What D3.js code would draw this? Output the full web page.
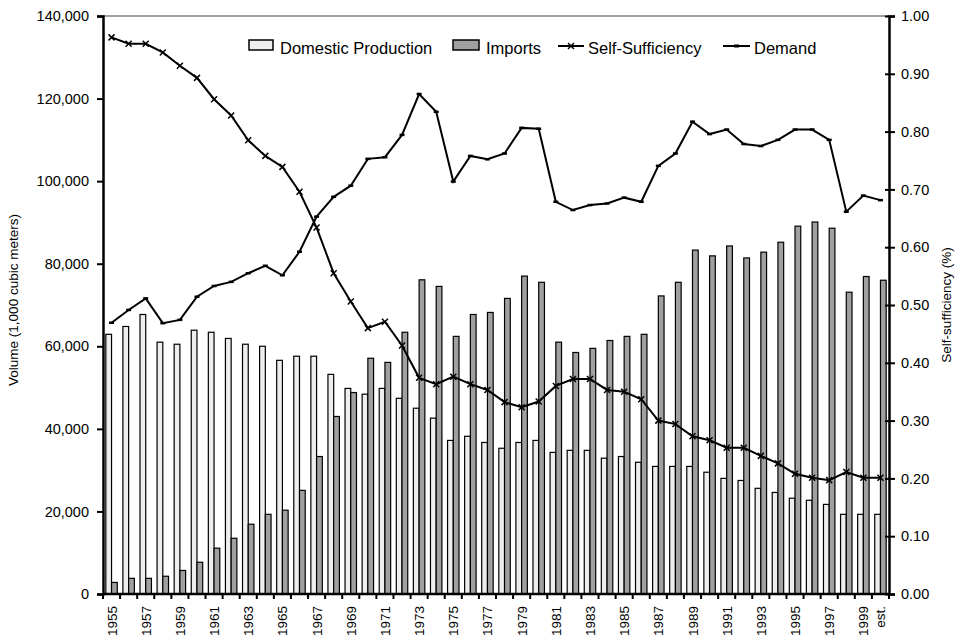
<!DOCTYPE html>
<html>
<head>
<meta charset="utf-8">
<script src="https://cdn.jsdelivr.net/npm/d3@7"></script>
<style>
  body { margin: 0; background: #fff; }
  text { font-family: "Liberation Sans", Arial, sans-serif; }
</style>
</head>
<body>
<div class="graphe"></div>
<script>
"use strict";

// donnees
var annees = ["1955","1956","1957","1958","1959","1960","1961","1962","1963","1964",
  "1965","1966","1967","1968","1969","1970","1971","1972","1973","1974",
  "1975","1976","1977","1978","1979","1980","1981","1982","1983","1984",
  "1985","1986","1987","1988","1989","1990","1991","1992","1993","1994",
  "1995","1996","1997","1998","1999","est."];

var production = [62900,64800,67700,61000,60500,63900,63400,61900,60500,60000,
  56600,57600,57600,53200,49800,48400,49800,47400,45000,42600,
  37200,38200,36700,35300,36700,37200,34300,34800,34800,32900,
  33300,31900,30900,30900,30900,29500,28000,27500,25600,24600,
  23200,22700,21700,19300,19300,19300];

var imports = [2800,3800,3800,4300,5700,7700,11100,13500,16900,19300,
  20300,25100,33300,43000,48800,57100,56100,63400,76100,74500,
  62400,67700,68200,71600,77000,75500,61000,58500,59500,61400,
  62400,62900,72200,75500,83300,81900,84300,81400,82800,85200,
  89100,90100,88600,73100,76900,76000];

var demande = [65700,68800,71600,65600,66400,72000,74600,75600,77700,79500,
  77200,82900,91400,96200,98900,105400,105800,111200,121100,116800,
  99900,106100,105300,106700,112900,112700,95000,93000,94200,94600,
  96000,95000,103700,106700,114400,111400,112500,109000,108500,110000,
  112500,112500,110000,92600,96500,95400];

var autosuffisance = [0.963,0.952,0.952,0.937,0.914,0.893,0.856,0.828,0.785,0.758,
  0.739,0.696,0.634,0.555,0.506,0.460,0.471,0.430,0.374,0.363,
  0.376,0.363,0.353,0.332,0.323,0.333,0.360,0.372,0.372,0.353,
  0.350,0.337,0.300,0.294,0.273,0.266,0.253,0.253,0.239,0.226,
  0.208,0.201,0.197,0.211,0.201,0.201];

var ticksVolume = [0,20000,40000,60000,80000,100000,120000,140000];
var ticksRatio = [0,0.1,0.2,0.3,0.4,0.5,0.6,0.7,0.8,0.9,1.0];
var series = ["Domestic Production","Imports"];

var larg = 959, haut = 641;
var marge = {haut: 16, droite: 70, bas: 47, gauche: 103};
var w = larg - marge.gauche - marge.droite;
var h = haut - marge.haut - marge.bas;

var svg = d3.select(".graphe").append("svg")
  .attr("width", larg)
  .attr("height", haut);

var g = svg.append("g")
  .attr("transform", "translate(" + marge.gauche + "," + marge.haut + ")");

// echelles
var x = d3.scaleBand().domain(annees).range([0, w])
  .paddingInner(0.33).paddingOuter(0.165);
var x1 = d3.scaleBand().domain(series).range([0, x.bandwidth()]);
var yG = d3.scaleLinear().domain([0, 140000]).range([h, 0]);
var yD = d3.scaleLinear().domain([0, 1]).range([h, 0]);
var pas = x.step();
function centre(d, i){ return x(annees[i]) + x.bandwidth()/2; }

var table = annees.map(function(a, i){
  return {annee: a, valeurs: [production[i], imports[i]]};
});

// bordure du haut
g.append("line")
  .attr("x1", 0).attr("x2", w).attr("y1", 0).attr("y2", 0)
  .attr("stroke", "#808080").attr("stroke-width", 1.5);

// barres
var groupes = g.selectAll("g.annee")
  .data(table)
  .enter().append("g")
  .attr("class", "annee")
  .attr("transform", function(d){ return "translate(" + x(d.annee) + ",0)"; });

groupes.selectAll("rect")
  .data(function(d){ return d.valeurs.map(function(v, k){ return {serie: series[k], v: v}; }); })
  .enter().append("rect")
  .attr("x", function(d){ return x1(d.serie); })
  .attr("y", function(d){ return yG(d.v); })
  .attr("width", x1.bandwidth())
  .attr("height", function(d){ return h - yG(d.v); })
  .attr("fill", function(d){ return d.serie == "Imports" ? "#a0a0a0" : "#eeeeee"; })
  .attr("stroke", "#000")
  .attr("stroke-width", 1.2);

// courbe demande
var ligneDemande = d3.line()
  .x(function(d, i){ return centre(d, i); })
  .y(function(d){ return yG(d); });

g.append("path")
  .datum(demande)
  .attr("d", ligneDemande)
  .attr("fill", "none")
  .attr("stroke", "#000")
  .attr("stroke-width", 2);

g.selectAll("line.mdem")
  .data(demande)
  .enter().append("line")
  .attr("class", "mdem")
  .attr("x1", function(d, i){ return centre(d, i) - 2.5; })
  .attr("x2", function(d, i){ return centre(d, i) + 2.5; })
  .attr("y1", function(d){ return yG(d); })
  .attr("y2", function(d){ return yG(d); })
  .attr("stroke", "#000").attr("stroke-width", 2.5);

// courbe autosuffisance
var ligneRatio = d3.line()
  .x(function(d, i){ return centre(d, i); })
  .y(function(d){ return yD(d); });

g.append("path")
  .datum(autosuffisance)
  .attr("d", ligneRatio)
  .attr("fill", "none")
  .attr("stroke", "#000")
  .attr("stroke-width", 2);

function croix(sel, cx, cy){
  sel.append("path")
    .attr("d", "M" + (cx-3) + "," + (cy-3) + "L" + (cx+3) + "," + (cy+3) +
      "M" + (cx-3) + "," + (cy+3) + "L" + (cx+3) + "," + (cy-3))
    .attr("stroke", "#000").attr("stroke-width", 1.5);
}
autosuffisance.forEach(function(d, i){ croix(g, centre(d, i), yD(d)); });

// axes
var axeG = g.append("g")
  .call(d3.axisLeft(yG).tickValues(ticksVolume).tickSize(6).tickPadding(8)
    .tickFormat(d3.format(",")));
var axeD = g.append("g")
  .attr("transform", "translate(" + w + ",0)")
  .call(d3.axisRight(yD).tickValues(ticksRatio).tickSize(6).tickPadding(6)
    .tickFormat(d3.format(".2f")));
[axeG, axeD].forEach(function(a){
  a.select(".domain").attr("stroke-width", 2.5);
  a.selectAll(".tick line").attr("stroke-width", 2);
  a.selectAll("text").attr("font-size", "14.5px").attr("fill", "#000");
});
axeD.selectAll(".tick line").attr("x1", -4);

// axe x
var axeX = g.append("g").attr("transform", "translate(0," + h + ")");
axeX.append("line")
  .attr("x1", 0).attr("x2", w).attr("y1", 0).attr("y2", 0)
  .attr("stroke", "#000").attr("stroke-width", 2.5);
axeX.selectAll("line.graduation")
  .data(d3.range(annees.length + 1))
  .enter().append("line")
  .attr("class", "graduation")
  .attr("x1", function(i){ return i * pas; })
  .attr("x2", function(i){ return i * pas; })
  .attr("y1", 0).attr("y2", 5)
  .attr("stroke", "#000").attr("stroke-width", 2);
axeX.selectAll("text")
  .data(annees.filter(function(a, i){ return i % 2 == 0 || i == annees.length - 1; }))
  .enter().append("text")
  .attr("transform", function(a){
    return "translate(" + (x(a) + x.bandwidth()/2 + 5) + ",12) rotate(-90)";
  })
  .attr("text-anchor", "end")
  .attr("font-size", "13.5px")
  .text(function(a){ return a; });

// titres des axes
svg.append("text")
  .attr("transform", "translate(18,300) rotate(-90)")
  .attr("text-anchor", "middle")
  .attr("font-size", "13.5px")
  .text("Volume (1,000 cubic meters)");
svg.append("text")
  .attr("transform", "translate(951,305) rotate(-90)")
  .attr("text-anchor", "middle")
  .attr("font-size", "13.5px")
  .text("Self-sufficiency (%)");

// legende
var legende = svg.append("g").attr("font-size", "16.5px");
legende.append("rect").attr("x", 249).attr("y", 40).attr("width", 24).attr("height", 10)
  .attr("fill", "#eeeeee").attr("stroke", "#000").attr("stroke-width", 1.5);
legende.append("text").attr("x", 280).attr("y", 54).text("Domestic Production");
legende.append("rect").attr("x", 453).attr("y", 40).attr("width", 26).attr("height", 10)
  .attr("fill", "#a0a0a0").attr("stroke", "#000").attr("stroke-width", 1.5);
legende.append("text").attr("x", 486).attr("y", 54).text("Imports");
legende.append("line").attr("x1", 558).attr("x2", 584).attr("y1", 46).attr("y2", 46)
  .attr("stroke", "#000").attr("stroke-width", 2);
croix(legende, 571, 46);
legende.append("text").attr("x", 588).attr("y", 54).text("Self-Sufficiency");
legende.append("line").attr("x1", 723).attr("x2", 750).attr("y1", 46).attr("y2", 46)
  .attr("stroke", "#000").attr("stroke-width", 2);
legende.append("line").attr("x1", 734).attr("x2", 739).attr("y1", 46).attr("y2", 46)
  .attr("stroke", "#000").attr("stroke-width", 3);
legende.append("text").attr("x", 754).attr("y", 54).text("Demand");
</script>
</body>
</html>
